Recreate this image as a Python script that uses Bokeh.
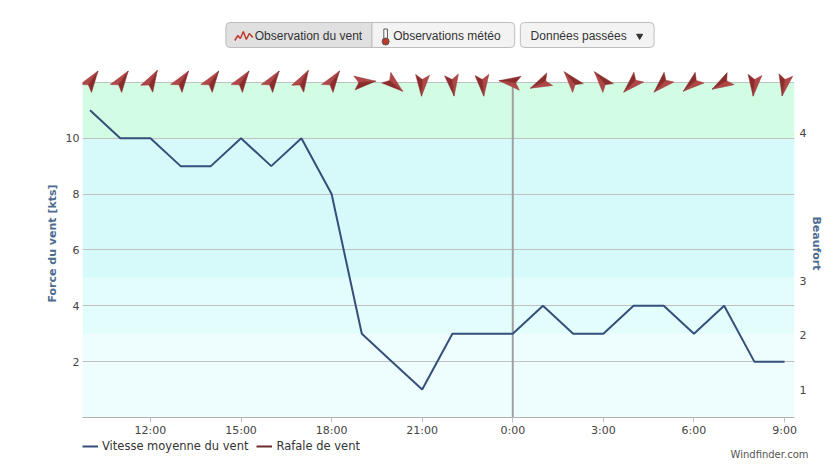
import math
from bokeh.plotting import figure
from bokeh.models import (Range1d, FixedTicker, LinearAxis, Legend, LegendItem,
                          BoxAnnotation, Plot)
from bokeh.layouts import column
from bokeh.core.properties import value
from bokeh.embed import file_html
from bokeh.resources import INLINE

# ---------------- data ----------------
# hours counted from midnight of the first day (24 = 0:00 next day)
hours = [10, 11, 12, 13, 14, 15, 16, 17, 18, 19, 20, 21,
         22, 23, 24, 25, 26, 27, 28, 29, 30, 31, 32, 33]
wind_kts = [11, 10, 10, 9, 9, 10, 9, 10, 8, 3, 2, 1,
            3, 3, 3, 4, 3, 3, 4, 4, 3, 4, 2, 2]
gust_hours = []
gust_kts = []
# direction each arrow points to (compass bearing, degrees clockwise from north)
arrow_bearing = [35, 35, 30, 35, 35, 35, 35, 30, 35, 85, 130, 183,
                 173, 175, 277, 245, 320, 320, 225, 225, 230, 240, 185, 190]

x_tick_hours = [12, 15, 18, 21, 24, 27, 30, 33]
x_tick_labels = ["12:00", "15:00", "18:00", "21:00", "0:00", "3:00", "6:00", "9:00"]
kts_ticks = [2, 4, 6, 8, 10]
grid_ticks = [2, 4, 6, 8, 10, 12]
beaufort_pos = [1.0, 2.95, 4.9, 10.2]
beaufort_labels = ["1", "2", "3", "4"]
band_edges = [0, 3, 5, 10, 12]
band_colors = ["#eefefe", "#e3fcfc", "#d6fafa", "#d3fce5"]
day_break = 24
button_labels = ["Observation du vent", "Observations météo", "Données passées"]
series_labels = ["Vitesse moyenne du vent", "Rafale de vent"]
series_colors = ["#34507a", "#6b2a2a"]
credit = "Windfinder.com"

# ---------------- layout constants ----------------
W = 826
BL, BR = 82, 29            # left / right borders (frame 715 px wide)
FW = W - BL - BR
TOP_H = 60
BT, FH, BB = 9, 351, 19    # main figure: top border, frame, bottom border
BOT_H = 30
X0, X1 = 9.75, 33.33
Y0, Y1 = 0, 12.46
ppx = FW / (X1 - X0)
ppy = FH / (Y1 - Y0)

TXT = "DejaVu Sans"
AXC = "#4d6a90"

# ---------------- main chart ----------------
p = figure(width=W, height=BT + FH + BB,
           x_range=Range1d(X0, X1), y_range=Range1d(Y0, Y1),
           output_backend="svg", toolbar_location=None,
           min_border_left=BL, min_border_right=BR,
           min_border_top=BT, min_border_bottom=BB,
           outline_line_color=None, background_fill_color="white",
           border_fill_color="white")

# background bands
p.quad(left=X0, right=X1, bottom=band_edges[:-1], top=band_edges[1:],
       fill_color=band_colors, line_color=None, level="image")

# grid
p.xgrid.grid_line_color = None
p.ygrid.ticker = FixedTicker(ticks=grid_ticks)
p.ygrid.grid_line_color = "#c0c0c0"
p.ygrid.grid_line_width = 1

# x axis
xa = p.xaxis[0]
xa.ticker = FixedTicker(ticks=x_tick_hours)
xa.major_label_overrides = dict(zip(x_tick_hours, x_tick_labels))
xa.axis_line_color = "#b0b0b0"
xa.major_tick_line_color = "#b8c4d0"
xa.major_tick_out = 5
xa.major_tick_in = 0
xa.minor_tick_line_color = None
xa.major_label_standoff = 1
xa.major_label_text_font = TXT
xa.major_label_text_font_size = "11px"
xa.major_label_text_color = "#444444"

# left axis
ya = p.yaxis[0]
ya.ticker = FixedTicker(ticks=kts_ticks)
ya.axis_line_color = None
ya.major_tick_line_color = None
ya.minor_tick_line_color = None
ya.major_tick_out = 0
ya.major_tick_in = 0
ya.major_label_standoff = 3
ya.major_label_text_font = TXT
ya.major_label_text_font_size = "11px"
ya.major_label_text_color = "#444444"
ya.axis_label = "Force du vent [kts]"
ya.axis_label_text_font = TXT
ya.axis_label_text_font_style = "bold"
ya.axis_label_text_font_size = "11px"
ya.axis_label_text_color = AXC
ya.axis_label_standoff = 4

# right (Beaufort) axis
ra = LinearAxis(ticker=FixedTicker(ticks=beaufort_pos),
                major_label_overrides=dict(zip(beaufort_pos, beaufort_labels)),
                axis_line_color=None, major_tick_line_color=None,
                minor_tick_line_color=None, major_tick_out=0, major_tick_in=0,
                major_label_standoff=5, major_label_text_font=TXT,
                major_label_text_font_size="11px", major_label_text_color="#444444",
                axis_label="Beaufort", axis_label_text_font=TXT,
                axis_label_text_font_style="bold", axis_label_text_font_size="11px",
                axis_label_text_color=AXC, axis_label_standoff=1)
p.add_layout(ra, "right")

# midnight separator
p.segment(x0=[day_break], y0=[band_edges[0]], x1=[day_break], y1=[band_edges[-1]],
          line_color="#a0a0a0", line_width=2)

# series
r_mean = p.line(hours, wind_kts, line_color=series_colors[0], line_width=2)
r_gust = p.line(gust_hours, gust_kts, line_color=series_colors[1], line_width=2)

# direction arrows (dart shape sized in pixels, converted through the scales)
half_a = [(14, 0), (-7.5, 7), (-3, 0)]
half_b = [(14, 0), (-3, 0), (-7.5, -7)]
top_val = grid_ticks[-1]
xs_a, ys_a, xs_b, ys_b = [], [], [], []
for h, bdir in zip(hours, arrow_bearing):
    th = math.radians(90 - bdir)
    c, s = math.cos(th), math.sin(th)
    for shape, XS, YS in ((half_a, xs_a, ys_a), (half_b, xs_b, ys_b)):
        XS.append([h + (px * c - py * s) / ppx for px, py in shape])
        YS.append([top_val + (px * s + py * c) / ppy for px, py in shape])
p.patches(xs_a, ys_a, fill_color="#b04646", line_color="#9a3636", line_width=0.5)
p.patches(xs_b, ys_b, fill_color="#8c2d2d", line_color="#8c2d2d", line_width=0.5)

# ---------------- top button bar ----------------
t = figure(width=W, height=TOP_H, x_range=Range1d(BL, W - BR), y_range=Range1d(0, TOP_H),
           output_backend="svg", toolbar_location=None,
           min_border_left=BL, min_border_right=BR, min_border_top=0, min_border_bottom=0,
           x_axis_location=None, y_axis_location=None,
           outline_line_color=None, border_fill_color="white",
           background_fill_color="white")
t.grid.visible = False


def Y(v):
    return TOP_H - v


boxes = [(226, 372.7, "#e0e0e0", (4, 0, 0, 4)),
         (372.7, 516, "#f3f3f3", (0, 4, 4, 0)),
         (521.7, 656, "#f3f3f3", (4, 4, 4, 4))]
for l, r, fc, br in boxes:
    t.add_layout(BoxAnnotation(left=l, right=r, top=Y(22), bottom=Y(47),
                               fill_color=fc, fill_alpha=1, line_color="#bdbdbd",
                               line_alpha=1, line_width=1, border_radius=br,
                               level="underlay"))

t.text(x=[255, 394, 532], y=[Y(35)] * 3, text=button_labels,
       text_font=value("Liberation Sans"), text_font_size="12px",
       text_baseline="middle", text_align="left", text_color="#333333")

# wind icon (red zigzag)
t.line(x=[235, 238, 240.5, 243.5, 246.5, 249.5, 253],
       y=[Y(v) for v in (40, 35, 38, 31, 39, 33, 37)],
       line_color="#c0392b", line_width=1.5)
# thermometer icon
t.quad(left=[384.6], right=[388.2], top=[Y(28.5)], bottom=[Y(40)],
       fill_color="white", line_color="#555555", line_width=1)
t.scatter(x=[386.4], y=[Y(41)], size=7, marker="circle",
          fill_color="#c0392b", line_color="#555555", line_width=1)
# caret
t.scatter(x=[641.5], y=[Y(35.5)], size=6, marker="inverted_triangle",
          fill_color="#333333", line_color="#333333")

# ---------------- bottom strip: legend + credit ----------------
can_unalign = "frame_align" in Plot.properties()
b_right = 0 if can_unalign else BR
b_kw = dict(frame_align=False) if can_unalign else {}
b = figure(width=W, height=BOT_H, x_range=Range1d(BL, W - b_right), y_range=Range1d(0, BOT_H),
           output_backend="svg", toolbar_location=None,
           min_border_left=BL, min_border_right=b_right, min_border_top=0, min_border_bottom=0,
           x_axis_location=None, y_axis_location=None,
           outline_line_color=None, border_fill_color="white",
           background_fill_color="white", **b_kw)
b.grid.visible = False
# legend-only renderers (one empty point each so that the legend sample is drawn)
nan = float("nan")
lg_mean = b.line([nan], [nan], line_color=series_colors[0], line_width=2)
lg_gust = b.line([nan], [nan], line_color=series_colors[1], line_width=2)
legend = Legend(items=[LegendItem(label=series_labels[0], renderers=[lg_mean]),
                       LegendItem(label=series_labels[1], renderers=[lg_gust])],
                orientation="horizontal", location="top_left",
                padding=0, margin=0, spacing=8, label_standoff=4,
                glyph_width=16, glyph_height=10, label_height=10,
                label_text_font=TXT, label_text_font_size="11.5px",
                label_text_color="#333333", border_line_color=None,
                background_fill_alpha=0)
b.add_layout(legend, "center")
credit_x = 808 if can_unalign else W - BR
b.text(x=[credit_x], y=[BOT_H - 15], text=[credit],
       text_align="right", text_baseline="middle",
       text_font=value(TXT), text_font_size="10px", text_color="#555555")

layout = column(t, p, b, spacing=0)
open("out.html", "w").write(file_html(layout, INLINE, "Windfinder"))
